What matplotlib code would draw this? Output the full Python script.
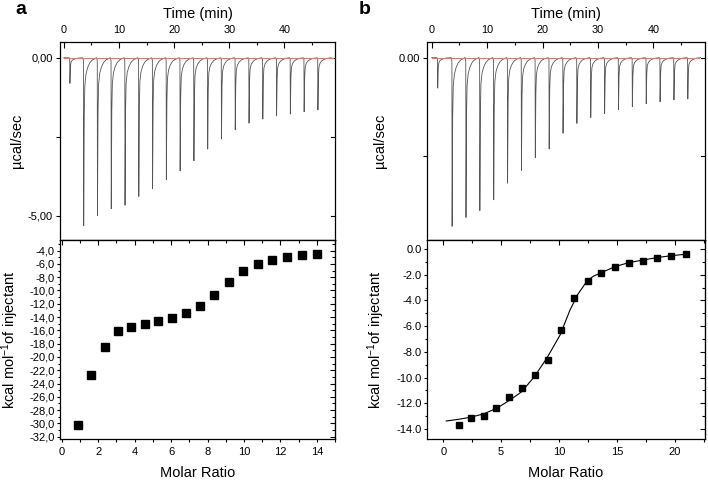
import numpy as np
import matplotlib
matplotlib.use("Agg")
import matplotlib.pyplot as plt
from matplotlib.ticker import MultipleLocator

plt.rcParams['font.family'] = ['Liberation Sans', 'DejaVu Sans']
plt.rcParams['mathtext.default'] = 'regular'
plt.rcParams['axes.unicode_minus'] = False

# ---------------- data ----------------
# Panel a, raw thermogram: injection spike times (min) and depths (ucal/sec)
a_peak_t = [1.1, 3.6, 6.1, 8.6, 11.1, 13.6, 16.1, 18.6, 21.1, 23.6,
            26.1, 28.6, 31.1, 33.6, 36.1, 38.6, 41.1, 43.6, 46.1]
a_peak_d = [-0.81, -5.32, -5.00, -4.78, -4.67, -4.39, -4.14, -3.86, -3.58, -3.26,
            -2.89, -2.57, -2.28, -2.07, -1.94, -1.84, -1.78, -1.71, -1.65]
# Panel b, raw thermogram
b_peak_t = [1.1, 3.7, 6.2, 8.7, 11.2, 13.7, 16.2, 18.7, 21.2, 23.7,
            26.2, 28.7, 31.2, 33.7, 36.2, 38.7, 41.2, 43.7, 46.2]
b_peak_d = [-0.31, -1.72, -1.63, -1.56, -1.45, -1.28, -1.15, -1.02, -0.93, -0.77,
            -0.67, -0.61, -0.57, -0.53, -0.50, -0.47, -0.45, -0.43, -0.42]
# peak shape: offset from spike (min) and fraction of depth
peak_off = [-0.15, -0.04, 0.0, 0.1, 0.2, 0.4, 0.7, 1.1, 1.6, 2.3]
peak_frac = [0.0, 0.02, 1.0, 0.35, 0.17, 0.10, 0.06, 0.03, 0.012, 0.0]

# Panel a, integrated heats
a_ratio = [0.91, 1.60, 2.35, 3.07, 3.80, 4.55, 5.29, 6.05, 6.84, 7.60,
           8.38, 9.16, 9.96, 10.75, 11.56, 12.36, 13.18, 14.02]
a_heat = [-30.2, -22.7, -18.55, -16.14, -15.44, -15.09, -14.64, -14.19, -13.38, -12.28,
          -10.62, -8.67, -7.01, -5.96, -5.35, -4.90, -4.70, -4.45]
# Panel b, integrated heats
b_ratio = [1.32, 2.36, 3.48, 4.57, 5.69, 6.78, 7.90, 9.02, 10.14, 11.32,
           12.47, 13.65, 14.83, 16.03, 17.24, 18.45, 19.68, 20.92]
b_heat = [-13.72, -13.15, -12.96, -12.39, -11.54, -10.79, -9.80, -8.61, -6.27, -3.84,
          -2.51, -1.87, -1.40, -1.11, -0.91, -0.67, -0.52, -0.41]
# Panel b, fitted curve
b_fit_x = [0.26, 1.32, 2.4, 3.47, 4.6, 5.78, 6.78, 7.87, 8.94, 10.09,
           10.95, 11.6, 12.44, 13.0, 13.65, 14.83, 16.03, 17.24, 18.45, 19.68, 20.92]
b_fit_y = [-13.38, -13.25, -13.08, -12.83, -12.40, -11.74, -11.10, -9.93, -8.50, -6.69,
           -4.74, -3.55, -2.46, -2.10, -1.84, -1.37, -1.06, -0.86, -0.67, -0.52, -0.41]

time_ticks = [0, 10, 20, 30, 40]

# ---------------- figure ----------------
W, H = 708, 483
fig = plt.figure(figsize=(W / 100, H / 100), dpi=100)


def fbox(x0, y0, x1, y1):
    return [x0 / W, 1 - y1 / H, (x1 - x0) / W, (y1 - y0) / H]


axA1 = fig.add_axes(fbox(60, 42, 335, 240))
axA2 = fig.add_axes(fbox(60, 240, 335, 439))
axB1 = fig.add_axes(fbox(427, 42, 705, 240))
axB2 = fig.add_axes(fbox(427, 240, 705, 439))

tick_fs = 8.0
time_fs = 7.8
label_fs = 10.5


def build_trace(times, depths):
    xs, ys = [0.0], [0.0]
    for t, d in zip(times, depths):
        for o, f in zip(peak_off, peak_frac):
            xs.append(t + o)
            ys.append(d * f)
    xs.append(48.5)
    ys.append(0.0)
    return xs, ys


def style_top(ax, xlim, ylim, yticks, ylabels, ylabel_x):
    ax.set_xlim(*xlim)
    ax.set_ylim(*ylim)
    ax.xaxis.set_ticks_position('top')
    ax.xaxis.set_label_position('top')
    ax.set_xticks(time_ticks)
    ax.set_xticklabels([str(v) for v in time_ticks])
    ax.xaxis.set_minor_locator(MultipleLocator(5))
    ax.tick_params(axis='x', which='both', direction='in', top=True, bottom=False,
                   labeltop=True, labelbottom=False, labelsize=time_fs, pad=5)
    ax.tick_params(axis='x', which='major', length=4, width=0.8)
    ax.tick_params(axis='x', which='minor', length=2.5, width=0.8)
    ax.set_yticks(yticks)
    ax.set_yticklabels(ylabels)
    ax.tick_params(axis='y', which='major', direction='out', left=True, right=False,
                   length=3, width=0.8, labelsize=tick_fs, pad=2)
    for yt in yticks:
        ax.plot([1.0, 0.985], [yt, yt], transform=ax.get_yaxis_transform(),
                color='black', lw=0.8, clip_on=False)
    ax.set_xlabel('Time (min)', fontsize=label_fs, labelpad=5)
    ax.set_ylabel('\u00b5cal/sec', fontsize=label_fs)
    ax.yaxis.set_label_coords(ylabel_x, 0.5)
    for s in ax.spines.values():
        s.set_linewidth(0.9)


def style_bottom(ax, xlim, ylim, xmaj, xmin, ymaj, ymin, yfmt, ylabel_x):
    ax.set_xlim(*xlim)
    ax.set_ylim(*ylim)
    ax.xaxis.set_major_locator(MultipleLocator(xmaj))
    ax.xaxis.set_minor_locator(MultipleLocator(xmin))
    ax.yaxis.set_major_locator(MultipleLocator(ymaj))
    ax.yaxis.set_minor_locator(MultipleLocator(ymin))
    ax.yaxis.set_major_formatter(plt.FuncFormatter(yfmt))
    ax.tick_params(axis='both', which='both', direction='out', top=False, right=False,
                   labelsize=tick_fs, width=0.8)
    ax.tick_params(axis='both', which='major', length=2.5)
    ax.tick_params(axis='y', which='major', pad=1.5)
    ax.tick_params(axis='x', which='major', pad=3.5)
    ax.tick_params(axis='both', which='minor', length=1.8)
    # inward ticks on top and right spines
    sx = ax.secondary_xaxis('top')
    sx.xaxis.set_major_locator(MultipleLocator(xmaj))
    sx.xaxis.set_minor_locator(MultipleLocator(xmin))
    sx.tick_params(which='both', direction='in', labeltop=False, width=0.8)
    sx.tick_params(which='major', length=3.5)
    sx.tick_params(which='minor', length=2)
    sy = ax.secondary_yaxis('right')
    sy.yaxis.set_major_locator(MultipleLocator(ymaj))
    sy.yaxis.set_minor_locator(MultipleLocator(ymin))
    sy.tick_params(which='both', direction='in', labelright=False, width=0.8)
    sy.tick_params(which='major', length=3.5)
    sy.tick_params(which='minor', length=2)
    ax.set_xlabel('Molar Ratio', fontsize=label_fs, labelpad=6)
    ax.set_ylabel('kcal mol$^{-1}$of injectant', fontsize=label_fs)
    ax.yaxis.set_label_coords(ylabel_x, 0.5)
    for s in ax.spines.values():
        s.set_linewidth(0.9)


# ---- panel a top ----
xs, ys = build_trace(a_peak_t, a_peak_d)
axA1.plot(xs, ys, color='#555555', lw=0.6, zorder=2)
axA1.plot([0.1, 48.8], [0, 0], color='#f07070', lw=0.8, zorder=3)
style_top(axA1, (-0.7, 49.2), (-5.77, 0.5), [-5.0, -2.5, 0.0], ['-5,00', '', '0,00'], -0.13)

# ---- panel b top ----
xs, ys = build_trace(b_peak_t, b_peak_d)
axB1.plot(xs, ys, color='#555555', lw=0.6, zorder=2)
axB1.plot([0.0, 48.3], [0, 0], color='#f07070', lw=0.8, zorder=3)
style_top(axB1, (-0.83, 49.3), (-1.86, 0.16), [-1.0, 0.0], ['', '0.00'], -0.144)

# ---- panel a bottom ----
axA2.plot(a_ratio, a_heat, linestyle='none', marker='s', ms=5.2, color='black')
style_bottom(axA2, (-0.1, 15.0), (-32.35, -2.4), 2, 1, 2, 1,
             lambda v, p: ('%.1f' % v).replace('.', ','), -0.143)

# ---- panel b bottom ----
axB2.plot(b_fit_x, b_fit_y, color='black', lw=0.8)
axB2.plot(b_ratio, b_heat, linestyle='none', marker='s', ms=4.9, color='black')
style_bottom(axB2, (-1.4, 22.6), (-14.78, 0.7), 5, 2.5, 2, 1,
             lambda v, p: '%.1f' % v, -0.144)

# panel letters
fig.text(21 / W, 1 - 9 / H, 'a', fontsize=14, fontweight='bold', ha='center', va='center')
fig.text(365 / W, 1 - 9 / H, 'b', fontsize=14, fontweight='bold', ha='center', va='center')

fig.savefig('out.png', dpi=100)
